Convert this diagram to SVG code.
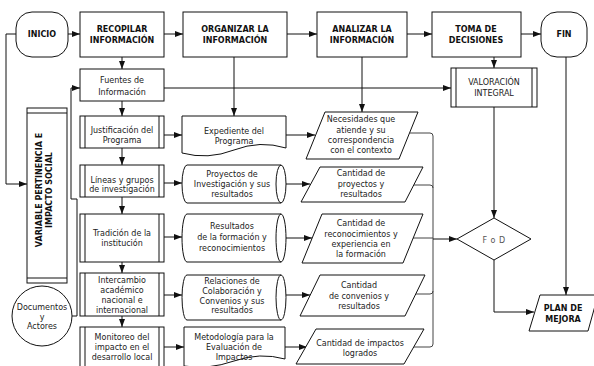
<svg xmlns="http://www.w3.org/2000/svg" width="594" height="366" viewBox="0 0 594 366">
<defs>
<marker id="ah" viewBox="0 0 8 6" refX="8" refY="3" markerWidth="8" markerHeight="6" markerUnits="userSpaceOnUse" orient="auto">
<path d="M0,0 L8,3 L0,6 Z" fill="#111"/>
</marker>
</defs>
<style>
.s{fill:#fff;stroke:#111;stroke-width:1}
.l{fill:none;stroke:#111;stroke-width:1}
.g{fill:none;stroke:#444;stroke-width:1}
.a{marker-end:url(#ah)}
text{font-family:"DejaVu Sans","Liberation Sans",sans-serif;font-size:8px;fill:#222;text-anchor:middle}
.b{font-weight:bold;fill:#111}
</style>
<rect width="594" height="366" fill="#fff"/>

<g id="connectors">
<path class="l a" d="M68,34 H80"/>
<path class="l a" d="M164,34 H183"/>
<path class="l a" d="M287,34 H317"/>
<path class="l a" d="M407,34 H432"/>
<path class="l a" d="M521,34 H541"/>
<path class="l a" d="M16,34 H6 V184 H27"/>
<path class="l a" d="M122,57 V69"/>
<path class="l a" d="M164,88 H451"/>
<path class="l a" d="M494,57 V68"/>
<path class="l a" d="M234,57 V116"/>
<path class="l a" d="M362,57 V112"/>
<path class="l a" d="M122,101 V116"/>
<path class="l a" d="M122,148 V165"/>
<path class="l a" d="M122,197 V214"/>
<path class="l a" d="M122,262 V273"/>
<path class="l a" d="M122,316 V327"/>
<path class="l a" d="M164,135 H182"/>
<path class="l a" d="M164,183 H182"/>
<path class="l a" d="M164,237 H182"/>
<path class="l a" d="M164,295 H182"/>
<path class="l a" d="M164,347 H184"/>
<path class="l a" d="M286,135 H315"/>
<path class="l a" d="M286,184 H310"/>
<path class="l a" d="M286,238 H312"/>
<path class="l a" d="M286,295 H310"/>
<path class="l a" d="M285,347 H307"/>
<path class="g" d="M410,133 H430 Q433,133 433,136 V344 Q433,347 430,347 H402"/>
<path class="g" d="M414,185 H430 Q433,185 433,188"/>
<path class="g" d="M412,238 H433"/>
<path class="g" d="M404,294 H430 Q433,294 433,291"/>
<path class="l a" d="M433,239 H457"/>
<path class="l a" d="M494,107 V218"/>
<path class="l a" d="M494,260 V312 H534"/>
<path class="l a" d="M566,57 V295"/>
<path class="l a" d="M72,316 H77 V199 H71 V88 H80"/>
</g>

<g id="inicio">
<rect class="s" x="16" y="12" width="52" height="45" rx="16"/>
<text class="b" x="42" y="37">INICIO</text>
</g>
<g id="recopilar">
<rect class="s" x="80" y="12" width="84" height="45"/>
<text class="b" x="122" y="32">RECOPILAR</text>
<text class="b" x="122" y="43">INFORMACIÓN</text>
</g>
<g id="organizar">
<rect class="s" x="183" y="12" width="104" height="45"/>
<text class="b" x="235" y="32">ORGANIZAR LA</text>
<text class="b" x="235" y="43">INFORMACIÓN</text>
</g>
<g id="analizar">
<rect class="s" x="317" y="12" width="90" height="45"/>
<text class="b" x="362" y="32">ANALIZAR LA</text>
<text class="b" x="362" y="43">INFORMACIÓN</text>
</g>
<g id="toma">
<rect class="s" x="432" y="12" width="89" height="45"/>
<text class="b" x="476" y="32">TOMA DE</text>
<text class="b" x="476" y="43">DECISIONES</text>
</g>
<g id="fin">
<rect class="s" x="541" y="12" width="46" height="45" rx="16"/>
<text class="b" x="564" y="37">FIN</text>
</g>

<g id="variable">
<rect class="s" x="27" y="108" width="40" height="175"/>
<path class="l" d="M27,113 H67 M27,278 H67"/>
<text class="b" transform="translate(42,190) rotate(-90)">VARIABLE PERTINENCIA E</text>
<text class="b" transform="translate(52,190) rotate(-90)">IMPACTO SOCIAL</text>
</g>

<g id="fuentes">
<rect class="s" x="80" y="69" width="84" height="32"/>
<text x="122" y="83">Fuentes de</text>
<text x="122" y="95">Información</text>
</g>
<g id="valoracion">
<rect class="s" x="451" y="68" width="86" height="39"/>
<path class="l" d="M456,68 V107 M532,68 V107"/>
<text x="494" y="85">VALORACIÓN</text>
<text x="494" y="96">INTEGRAL</text>
</g>

<g id="justificacion">
<rect class="s" x="80" y="116" width="84" height="32"/>
<path class="l" d="M85,116 V148 M159,116 V148"/>
<text x="122" y="133">Justificación del</text>
<text x="122" y="143">Programa</text>
</g>
<g id="lineas">
<rect class="s" x="80" y="165" width="84" height="32"/>
<path class="l" d="M85,165 V197 M159,165 V197"/>
<text x="122" y="183">Líneas y grupos</text>
<text x="122" y="192">de investigación</text>
</g>
<g id="tradicion">
<rect class="s" x="80" y="214" width="84" height="48"/>
<path class="l" d="M85,214 V262 M159,214 V262"/>
<text x="122" y="236">Tradición de la</text>
<text x="122" y="246">institución</text>
</g>
<g id="intercambio">
<rect class="s" x="80" y="273" width="84" height="43"/>
<path class="l" d="M85,273 V316 M159,273 V316"/>
<text x="122" y="283">Intercambio</text>
<text x="122" y="293">académico</text>
<text x="122" y="303">nacional e</text>
<text x="122" y="313">internacional</text>
</g>
<g id="monitoreo">
<rect class="s" x="80" y="327" width="84" height="42"/>
<path class="l" d="M85,327 V369 M159,327 V369"/>
<text x="122" y="340">Monitoreo del</text>
<text x="122" y="350">impacto en el</text>
<text x="122" y="360">desarrollo local</text>
</g>

<g id="documentos">
<circle class="s" cx="42" cy="316" r="30"/>
<text x="42" y="310">Documentos</text>
<text x="42" y="320">y</text>
<text x="42" y="329">Actores</text>
</g>

<g id="expediente">
<path class="s" d="M182,116 H286 V148 Q260,140 234,150 T182,153 Z"/>
<text x="234" y="134">Expediente del</text>
<text x="234" y="144">Programa</text>
</g>
<g id="proyectos">
<path class="s" d="M187,165 H281 A5,19 0 0 1 281,203 H187 A5,19 0 0 1 187,165 Z"/>
<path class="l" d="M281,165 A5,19 0 0 0 281,203"/>
<text x="232" y="177">Proyectos de</text>
<text x="232" y="187">Investigación y sus</text>
<text x="232" y="197">resultados</text>
</g>
<g id="resultados">
<path class="s" d="M187,214 H281 A5,24 0 0 1 281,262 H187 A5,24 0 0 1 187,214 Z"/>
<path class="l" d="M281,214 A5,24 0 0 0 281,262"/>
<text x="232" y="229">Resultados</text>
<text x="232" y="240">de la formación y</text>
<text x="232" y="251">reconocimientos</text>
</g>
<g id="relaciones">
<path class="s" d="M187,275 H281 A5,22.5 0 0 1 281,320 H187 A5,22.5 0 0 1 187,275 Z"/>
<path class="l" d="M281,275 A5,22.5 0 0 0 281,320"/>
<text x="232" y="284">Relaciones de</text>
<text x="232" y="294">Colaboración y</text>
<text x="232" y="304">Convenios y sus</text>
<text x="232" y="313">resultados</text>
</g>
<g id="metodologia">
<path class="s" d="M184,327 H285 V359 Q260,352 234,361 T184,366 Z"/>
<text x="234" y="340">Metodología para la</text>
<text x="234" y="350">Evaluación de</text>
<text x="234" y="360">Impactos</text>
</g>

<g id="necesidades">
<path class="s" d="M325,112 H418 L399,159 H306 Z"/>
<text x="361" y="122">Necesidades que</text>
<text x="361" y="133">atiende y su</text>
<text x="361" y="143">correspondencia</text>
<text x="361" y="153">con el contexto</text>
</g>
<g id="cant-proyectos">
<path class="s" d="M320,167 H423 L405,202 H301 Z"/>
<text x="361" y="176">Cantidad de</text>
<text x="361" y="187">proyectos y</text>
<text x="361" y="197">resultados</text>
</g>
<g id="cant-reconocimientos">
<path class="s" d="M322,214 H423 L403,263 H302 Z"/>
<text x="361" y="226">Cantidad de</text>
<text x="361" y="237">reconocimientos y</text>
<text x="361" y="247">experiencia en</text>
<text x="361" y="257">la formación</text>
</g>
<g id="cant-convenios">
<path class="s" d="M320,275 H425 L405,316 H300 Z"/>
<text x="359" y="288">Cantidad</text>
<text x="359" y="299">de convenios y</text>
<text x="359" y="309">resultados</text>
</g>
<g id="cant-impactos">
<path class="s" d="M316,329 H424 L404,364 H296 Z"/>
<text x="360" y="346">Cantidad de impactos</text>
<text x="360" y="356">logrados</text>
</g>

<g id="fod">
<path class="s" d="M494,218 L531,239 L494,260 L457,239 Z"/>
<text x="494" y="243" style="fill:#555;letter-spacing:0.5px">F o D</text>
</g>
<g id="plan">
<path class="s" d="M540,295 H598 L588,331 H529 Z"/>
<text class="b" x="563" y="311">PLAN DE</text>
<text class="b" x="563" y="322">MEJORA</text>
</g>
</svg>
